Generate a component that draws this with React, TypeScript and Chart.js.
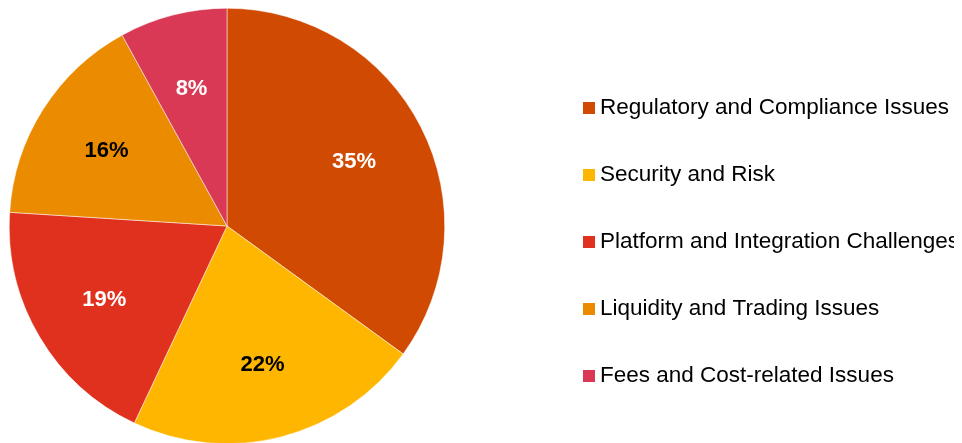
import React, { useEffect, useRef } from "react";
import { Chart, registerables } from "chart.js";

Chart.register(...registerables);

const categories = [
  "Regulatory and Compliance Issues",
  "Security and Risk",
  "Platform and Integration Challenges",
  "Liquidity and Trading Issues",
  "Fees and Cost-related Issues",
];
const shares = [35, 22, 19, 16, 8];
const colors = ["#D04A02", "#FFB600", "#E0301E", "#EB8C00", "#D93954"];
const labelColors = ["#ffffff", "#000000", "#ffffff", "#000000", "#ffffff"];

const FONT = "'Liberation Sans', Arial, sans-serif";

const sliceLabels = {
  id: "sliceLabels",
  afterDatasetsDraw(chart: any) {
    const ctx = chart.ctx;
    const meta = chart.getDatasetMeta(0);
    ctx.save();
    ctx.font = `bold 22px ${FONT}`;
    ctx.textAlign = "center";
    ctx.textBaseline = "middle";
    meta.data.forEach((arc: any, i: number) => {
      const p = arc.getProps(["x", "y", "startAngle", "endAngle", "outerRadius"], true);
      const mid = (p.startAngle + p.endAngle) / 2;
      const r = p.outerRadius * 0.655;
      ctx.fillStyle = labelColors[i];
      ctx.fillText(`${shares[i]}%`, p.x + Math.cos(mid) * r, p.y + Math.sin(mid) * r + 1);
    });
    ctx.restore();
  },
};

const sideLegend = {
  id: "sideLegend",
  afterDraw(chart: any) {
    const ctx = chart.ctx;
    const boxX = 575;
    const textX = 592;
    const firstY = 100;
    const step = 67;
    const box = 12;
    ctx.save();
    ctx.font = `22.5px ${FONT}`;
    ctx.textAlign = "left";
    ctx.textBaseline = "middle";
    chart.data.labels.forEach((label: string, i: number) => {
      const cy = firstY + i * step;
      ctx.fillStyle = colors[i];
      ctx.fillRect(boxX, cy - box / 2, box, box);
      ctx.fillStyle = "#000000";
      ctx.fillText(label, textX, cy);
    });
    ctx.restore();
  },
};

export default function App() {
  const ref = useRef<HTMLCanvasElement>(null);
  useEffect(() => {
    if (!ref.current) return;
    const chart = new Chart(ref.current, {
      type: "pie",
      data: {
        labels: categories,
        datasets: [
          {
            data: shares,
            backgroundColor: colors,
            borderColor: "#ffffff",
            borderWidth: 0.5,
          },
        ],
      },
      options: {
        animation: false,
        responsive: true,
        maintainAspectRatio: false,
        layout: { padding: { left: 0, right: 508, top: 0, bottom: 0 } },
        plugins: {
          legend: { display: false },
          tooltip: { enabled: false },
        },
      },
      plugins: [sliceLabels, sideLegend],
    });
    return () => chart.destroy();
  }, []);
  return (
    <div style={{ width: 946, height: 436, position: "relative" }}>
      <canvas ref={ref} />
    </div>
  );
}
